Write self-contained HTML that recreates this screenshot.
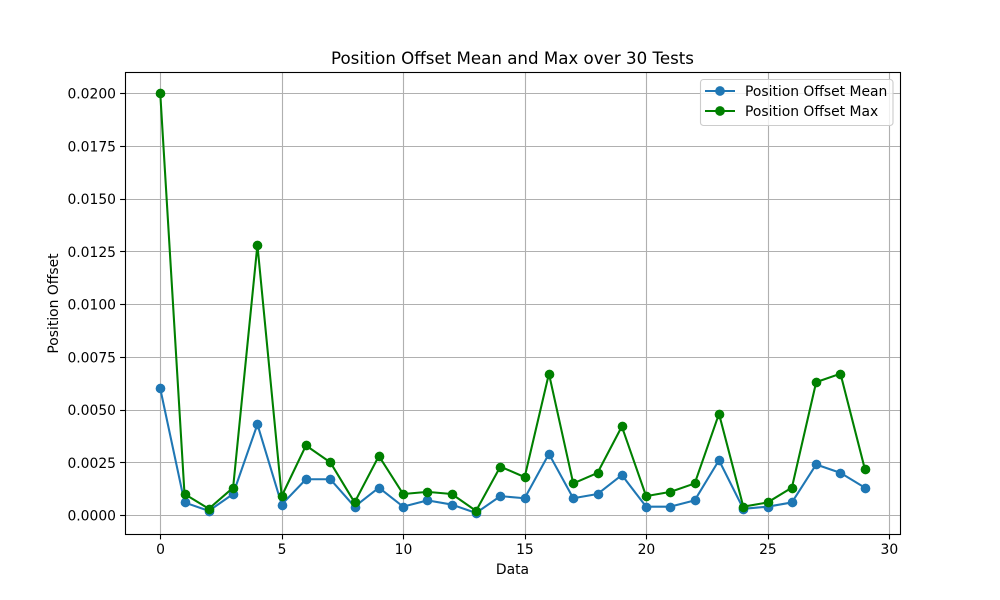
<!DOCTYPE html>
<html>
<head>
<meta charset="utf-8">
<title>Position Offset Mean and Max over 30 Tests</title>
<style>
html,body{margin:0;padding:0;background:#fff;}
svg{display:block;}
text{font-family:"DejaVu Sans",sans-serif;font-size:13.89px;fill:#000;}
</style>
</head>
<body>
<svg id="chart" xmlns="http://www.w3.org/2000/svg" width="1000" height="600" viewBox="0 0 1000 600">
  <rect x="0" y="0" width="1000" height="600" fill="#fff"/>
  <g id="grid"></g>
  <g id="series"></g>
  <rect x="125.5" y="72.5" width="775" height="462" fill="none" stroke="#000" stroke-width="1.11"/>
  <g id="ticks"></g>
  <text x="512.5" y="64" text-anchor="middle" style="font-size:16.67px">Position Offset Mean and Max over 30 Tests</text>
  <text x="512.5" y="574" text-anchor="middle">Data</text>
  <text transform="translate(58,303.5) rotate(-90)" text-anchor="middle">Position Offset</text>
  <g>
    <rect x="700.5" y="79.5" width="192.5" height="46" rx="3" ry="3" fill="#fff" fill-opacity="0.8" stroke="#ccc" stroke-width="1.11"/>
    <g>
      <line x1="705" y1="91" x2="735" y2="91" stroke="#1f77b4" stroke-width="2.08"/>
      <circle cx="720" cy="91" r="4.86" fill="#1f77b4"/>
      <text x="745" y="96">Position Offset Mean</text>
    </g>
    <g>
      <line x1="705" y1="111" x2="735" y2="111" stroke="#008000" stroke-width="2.08"/>
      <circle cx="720" cy="111" r="4.86" fill="#008000"/>
      <text x="745" y="116">Position Offset Max</text>
    </g>
  </g>
</svg>
<script>
const tests = [0,1,2,3,4,5,6,7,8,9,10,11,12,13,14,15,16,17,18,19,20,21,22,23,24,25,26,27,28,29];
const offsetMean = [0.0060,0.0006,0.0002,0.0010,0.0043,0.0005,0.0017,0.0017,0.0004,0.0013,0.0004,0.0007,0.0005,0.0001,0.0009,0.0008,0.0029,0.0008,0.0010,0.0019,0.0004,0.0004,0.0007,0.0026,0.0003,0.0004,0.0006,0.0024,0.0020,0.0013];
const offsetMax = [0.0200,0.0010,0.0003,0.0013,0.0128,0.0009,0.0033,0.0025,0.0006,0.0028,0.0010,0.0011,0.0010,0.0002,0.0023,0.0018,0.0067,0.0015,0.0020,0.0042,0.0009,0.0011,0.0015,0.0048,0.0004,0.0006,0.0013,0.0063,0.0067,0.0022];
const xTickValues = [0,5,10,15,20,25,30];
const yTickValues = [0,0.0025,0.005,0.0075,0.01,0.0125,0.015,0.0175,0.02];
const yTickLabels = ["0.0000","0.0025","0.0050","0.0075","0.0100","0.0125","0.0150","0.0175","0.0200"];

const NS = "http://www.w3.org/2000/svg";
const plot = {left:125, right:900, top:72, bottom:534};

function extent(values) {
  return [Math.min.apply(null, values), Math.max.apply(null, values)];
}
const xExt = extent(tests);
const yExt = extent(offsetMean.concat(offsetMax));
const xPad = (xExt[1] - xExt[0]) * 0.05;
const yPad = (yExt[1] - yExt[0]) * 0.05;
function xScale(v) {
  return plot.left + (v - (xExt[0] - xPad)) / (xExt[1] - xExt[0] + 2 * xPad) * (plot.right - plot.left);
}
function yScale(v) {
  return plot.bottom - (v - (yExt[0] - yPad)) / (yExt[1] - yExt[0] + 2 * yPad) * (plot.bottom - plot.top);
}
function snap(p) {
  return Math.round(p) + 0.5;
}
function make(tag, attrs, parent) {
  const el = document.createElementNS(NS, tag);
  for (const k in attrs) el.setAttribute(k, attrs[k]);
  parent.appendChild(el);
  return el;
}

const gridLayer = document.getElementById("grid");
const tickLayer = document.getElementById("ticks");
const seriesLayer = document.getElementById("series");

xTickValues.forEach(function (v) {
  const x = snap(xScale(v));
  const g = make("line", {x1:x, x2:x, y1:plot.top, y2:plot.bottom, stroke:"#b0b0b0", "stroke-width":1.11}, gridLayer);
  
  
  const t = make("line", {x1:x, x2:x, y1:plot.bottom, y2:plot.bottom + 5.4, stroke:"#000", "stroke-width":1.11}, tickLayer);
  
  
  const l = make("text", {x:xScale(v) + 0.3, y:554, "text-anchor":"middle"}, tickLayer);
  l.textContent = String(v);
  
  
});

yTickValues.forEach(function (v, i) {
  const y = snap(yScale(v));
  const g = make("line", {x1:plot.left, x2:plot.right, y1:y, y2:y, stroke:"#b0b0b0", "stroke-width":1.11}, gridLayer);
  
  
  const t = make("line", {x1:plot.left - 4.9, x2:plot.left, y1:y, y2:y, stroke:"#000", "stroke-width":1.11}, tickLayer);
  
  
  const l = make("text", {x:plot.left - 9, y:yScale(v) + 5.6, "text-anchor":"end"}, tickLayer);
  l.textContent = yTickLabels[i];
  
  
});

function drawSeries(values, color, label) {
  const pts = values.map(function (v, i) {
    return xScale(tests[i]).toFixed(2) + "," + yScale(v).toFixed(2);
  }).join(" ");
  const line = make("polyline", {points:pts, fill:"none", stroke:color, "stroke-width":2.08, "stroke-linejoin":"round"}, seriesLayer);
  
  
  values.forEach(function (v, i) {
    const c = make("circle", {cx:snap(xScale(tests[i])), cy:snap(yScale(v)), r:4.86, fill:color}, seriesLayer);
    
    
  });
}
drawSeries(offsetMean, "#1f77b4", "position-offset-mean");
drawSeries(offsetMax, "#008000", "position-offset-max");
</script>
</body>
</html>
